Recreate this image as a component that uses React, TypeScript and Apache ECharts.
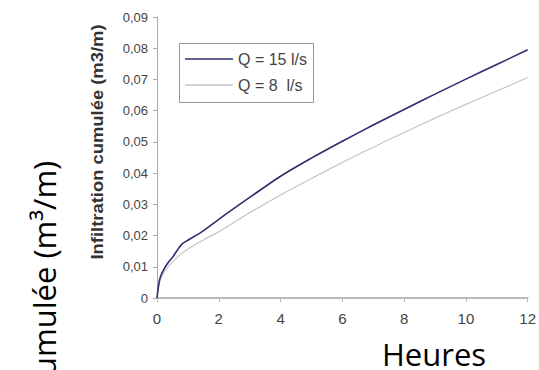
import React, { useEffect, useRef } from "react";
import * as echarts from "echarts";

const hours = [0, 0.05, 0.1, 0.2, 0.35, 0.5, 0.65, 0.8, 1, 1.5, 2, 3, 4, 5, 6, 7, 8, 9, 10, 11, 12];
const q15 = [0, 0.004, 0.0065, 0.0088, 0.0112, 0.013, 0.0152, 0.0172, 0.0185, 0.0215, 0.0252, 0.0322, 0.039, 0.0448, 0.0502, 0.0554, 0.0604, 0.0653, 0.0701, 0.0748, 0.0795];
const q8 = [0, 0.0035, 0.0055, 0.0078, 0.0099, 0.0115, 0.013, 0.0143, 0.0157, 0.0186, 0.0212, 0.0273, 0.033, 0.0383, 0.0434, 0.0483, 0.053, 0.0576, 0.062, 0.0663, 0.0706];
const seriesNames = ["Q = 15 l/s", "Q = 8  l/s"];
const yTitle = "Infiltration cumulée (m3/m)";
const bigYTitle = "umulée (m³/m)";
const xTitle = "Heures";

const BLUE = "#2d2d6e";
const GREY = "#c4c4c4";

export default function App() {
  const ref = useRef<HTMLDivElement>(null);
  useEffect(() => {
    if (!ref.current) return;
    const chart = echarts.init(ref.current, null, { renderer: "svg" });
    const pair = (ys: number[]) => hours.map((h, i) => [h, ys[i]]);
    chart.setOption({
      animation: false,
      backgroundColor: "#ffffff",
      grid: { left: 157, right: 9, top: 17, bottom: 72 },
      xAxis: {
        type: "value",
        min: 0,
        max: 12,
        interval: 2,
        axisLine: { lineStyle: { color: "#bbbbbb", width: 2 } },
        axisTick: { show: true, length: 4, lineStyle: { color: "#bbbbbb" } },
        splitLine: { show: false },
        axisLabel: { margin: 13, fontSize: 15, color: "#444", fontFamily: "Liberation Sans" },
      },
      yAxis: {
        type: "value",
        min: 0,
        max: 0.09,
        interval: 0.01,
        axisLine: { show: true, lineStyle: { color: "#aaaaaa" } },
        axisTick: { show: true, length: 4, lineStyle: { color: "#aaaaaa" } },
        splitLine: { show: false },
        axisLabel: {
          margin: 9,
          fontSize: 13,
          color: "#444",
          fontFamily: "Liberation Sans",
          formatter: (v: number) => (v === 0 ? "0" : v.toFixed(2).replace(".", ",")),
        },
      },
      legend: {
        orient: "vertical",
        left: 185,
        top: 51,
        itemWidth: 48,
        itemHeight: 1.5,
        itemGap: 10,
        padding: 0,
        textStyle: { fontSize: 16, color: "#444", fontFamily: "Liberation Sans" },
        data: [
          { name: seriesNames[0], icon: "rect", itemStyle: { color: BLUE } },
          { name: seriesNames[1], icon: "rect", itemStyle: { color: GREY } },
        ],
      },
      graphic: [
        {
          type: "rect",
          shape: { x: 179.5, y: 43.5, width: 134, height: 59 },
          style: { fill: "none", stroke: "#999999", lineWidth: 1 },
          z: 10,
        },
        {
          type: "text",
          x: 97,
          y: 142,
          rotation: Math.PI / 2,
          scaleX: 1.15,
          style: {
            text: yTitle,
            font: "bold 16px 'Liberation Sans'",
            fill: "#333",
            align: "center",
            verticalAlign: "middle",
          },
        },
        {
          type: "text",
          x: 44,
          y: 376,
          rotation: Math.PI / 2,
          style: {
            text: bigYTitle,
            font: "31px 'Open Sans'",
            fill: "#000",
            align: "left",
            verticalAlign: "middle",
          },
        },
        {
          type: "text",
          x: 434,
          y: 354,
          style: {
            text: xTitle,
            font: "31px 'Open Sans'",
            lineHeight: 28,
            fill: "#000",
            align: "center",
            verticalAlign: "middle",
          },
        },
      ],
      series: [
        {
          name: seriesNames[0],
          type: "line",
          data: pair(q15),
          smooth: 0.3,
          symbol: "none",
          lineStyle: { color: BLUE, width: 1.6 },
          itemStyle: { color: BLUE },
          z: 3,
        },
        {
          name: seriesNames[1],
          type: "line",
          data: pair(q8),
          smooth: 0.3,
          symbol: "none",
          lineStyle: { color: GREY, width: 1.2 },
          itemStyle: { color: GREY },
          z: 2,
        },
      ],
    });
    return () => chart.dispose();
  }, []);
  return <div ref={ref} style={{ width: 539, height: 370, position: "fixed", left: 0, top: 0 }} />;
}
